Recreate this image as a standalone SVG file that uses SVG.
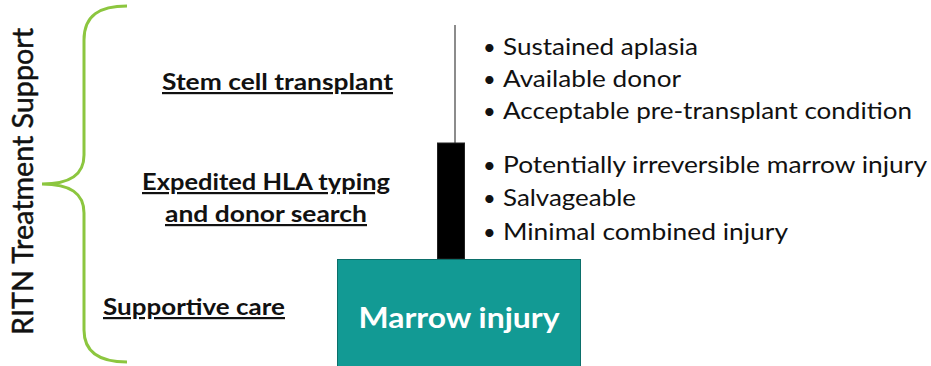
<svg xmlns="http://www.w3.org/2000/svg" width="931" height="366" viewBox="0 0 931 366">
<style>
.lbl{font-family:Lato,"Open Sans","Liberation Sans",sans-serif;font-weight:bold;font-size:22px;fill:#111;text-decoration:underline;}
.bul{font-family:Lato,"Open Sans","Liberation Sans",sans-serif;font-size:24px;fill:#111;}
.dot{font-family:Lato,"Open Sans","Liberation Sans",sans-serif;font-size:22px;fill:#111;}
.side{font-family:Lato,"Open Sans","Liberation Sans",sans-serif;font-size:29px;fill:#111;stroke:#111;stroke-width:0.5;}
</style>
<rect width="931" height="366" fill="#ffffff"/>
<g id="brace">
<path d="M127,6 C100,6 84,15 84,40 L84,155 C84,175 70,184 42,184 C70,184 84,193 84,213 L84,330 C84,352 100,362 127,362" fill="none" stroke="#8cc63f" stroke-width="3"/>
</g>
<g id="side-title">
<text class="side" transform="translate(33,335) rotate(-90)" textLength="307" lengthAdjust="spacingAndGlyphs">RITN Treatment Support</text>
</g>
<g id="stem-cell">
<text class="lbl" x="162" y="90" textLength="231" lengthAdjust="spacingAndGlyphs">Stem cell transplant</text>
</g>
<g id="hla">
<text class="lbl" x="142" y="190" textLength="248" lengthAdjust="spacingAndGlyphs">Expedited HLA typing</text>
<text class="lbl" x="165" y="222" textLength="202" lengthAdjust="spacingAndGlyphs">and donor search</text>
</g>
<g id="supportive">
<text class="lbl" x="103" y="315" textLength="182" lengthAdjust="spacingAndGlyphs">Supportive care</text>
</g>
<g id="connectors">
<line x1="455" y1="25" x2="455" y2="143" stroke="#666" stroke-width="1.5"/>
</g>
<g id="bar">
<rect x="437.5" y="143" width="27" height="116" fill="#000" stroke="#222" stroke-width="1"/>
</g>
<g id="marrow">
<rect x="337.5" y="259.5" width="243" height="110" fill="#129a94" stroke="#0b6f6a" stroke-width="1"/>
<text x="459" y="328" text-anchor="middle" font-family="Lato,Open Sans,Liberation Sans,sans-serif" font-weight="bold" font-size="28" fill="#ffffff" textLength="201" lengthAdjust="spacingAndGlyphs">Marrow injury</text>
</g>
<g id="criteria-transplant">
<text class="dot" x="483" y="55">•</text><text class="bul" x="503" y="55" textLength="195" lengthAdjust="spacingAndGlyphs">Sustained aplasia</text>
<text class="dot" x="483" y="87">•</text><text class="bul" x="503" y="87" textLength="178" lengthAdjust="spacingAndGlyphs">Available donor</text>
<text class="dot" x="483" y="119">•</text><text class="bul" x="503" y="119" textLength="409" lengthAdjust="spacingAndGlyphs">Acceptable pre-transplant condition</text>
</g>
<g id="criteria-hla">
<text class="dot" x="483" y="173">•</text><text class="bul" x="503" y="173" textLength="424" lengthAdjust="spacingAndGlyphs">Potentially irreversible marrow injury</text>
<text class="dot" x="483" y="206">•</text><text class="bul" x="503" y="206" textLength="133" lengthAdjust="spacingAndGlyphs">Salvageable</text>
<text class="dot" x="483" y="240">•</text><text class="bul" x="503" y="240" textLength="285" lengthAdjust="spacingAndGlyphs">Minimal combined injury</text>
</g>
</svg>
